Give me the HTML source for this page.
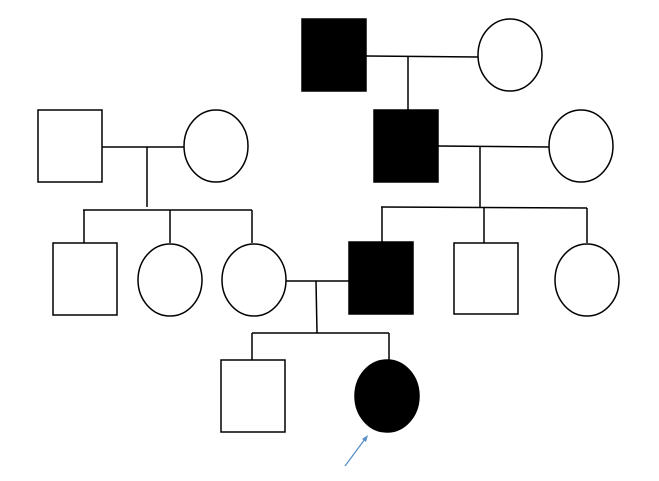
<!DOCTYPE html>
<html><head><style>html,body{margin:0;padding:0;background:#fff}svg{display:block}</style></head>
<body>
<svg width="659" height="481" viewBox="0 0 659 481" xmlns="http://www.w3.org/2000/svg">
<g stroke="#000" stroke-width="1.5" fill="none">
<rect x="302" y="19" width="64" height="72" fill="#000"/>
<ellipse cx="510" cy="55" rx="32" ry="36" fill="#fff"/>
<line x1="366" y1="56" x2="478" y2="57"/>
<line x1="408" y1="57" x2="408" y2="110"/>
<rect x="374" y="110" width="64" height="72" fill="#000"/>
<ellipse cx="581" cy="146" rx="32" ry="36" fill="#fff"/>
<line x1="438" y1="146" x2="549" y2="147"/>
<line x1="480" y1="146" x2="480" y2="207"/>
<line x1="381" y1="207" x2="587" y2="208"/>
<line x1="382" y1="207" x2="382" y2="243"/>
<line x1="484" y1="207" x2="484" y2="243"/>
<line x1="587" y1="208" x2="587" y2="243"/>
<rect x="38" y="110" width="64" height="72" fill="#fff"/>
<ellipse cx="216" cy="146" rx="32" ry="36" fill="#fff"/>
<line x1="102" y1="147" x2="184" y2="147"/>
<line x1="147" y1="147" x2="147" y2="207"/>
<line x1="83" y1="210" x2="252" y2="210"/>
<line x1="84" y1="210" x2="84" y2="243"/>
<line x1="170" y1="210" x2="170" y2="243"/>
<line x1="252" y1="210" x2="252" y2="243"/>
<rect x="53" y="243" width="64" height="72" fill="#fff"/>
<ellipse cx="170" cy="280" rx="32" ry="36" fill="#fff"/>
<ellipse cx="254" cy="280" rx="32" ry="36" fill="#fff"/>
<rect x="349" y="242" width="64" height="72" fill="#000"/>
<rect x="454" y="243" width="64" height="71" fill="#fff"/>
<ellipse cx="587" cy="280" rx="32" ry="36" fill="#fff"/>
<line x1="286" y1="281" x2="349" y2="281"/>
<line x1="316" y1="281" x2="317" y2="333"/>
<line x1="252" y1="333" x2="389" y2="333"/>
<line x1="252" y1="333" x2="252" y2="360"/>
<line x1="389" y1="333" x2="389" y2="360"/>
<rect x="221" y="360" width="64" height="72" fill="#fff"/>
<ellipse cx="387" cy="396" rx="32" ry="36" fill="#000"/>
</g>
<line x1="345" y1="466" x2="365" y2="439" stroke="#5b8fc7" stroke-width="1.3"/>
<polygon points="368,435 362,439 366,442" fill="#5b8fc7"/>
</svg>
</body></html>
